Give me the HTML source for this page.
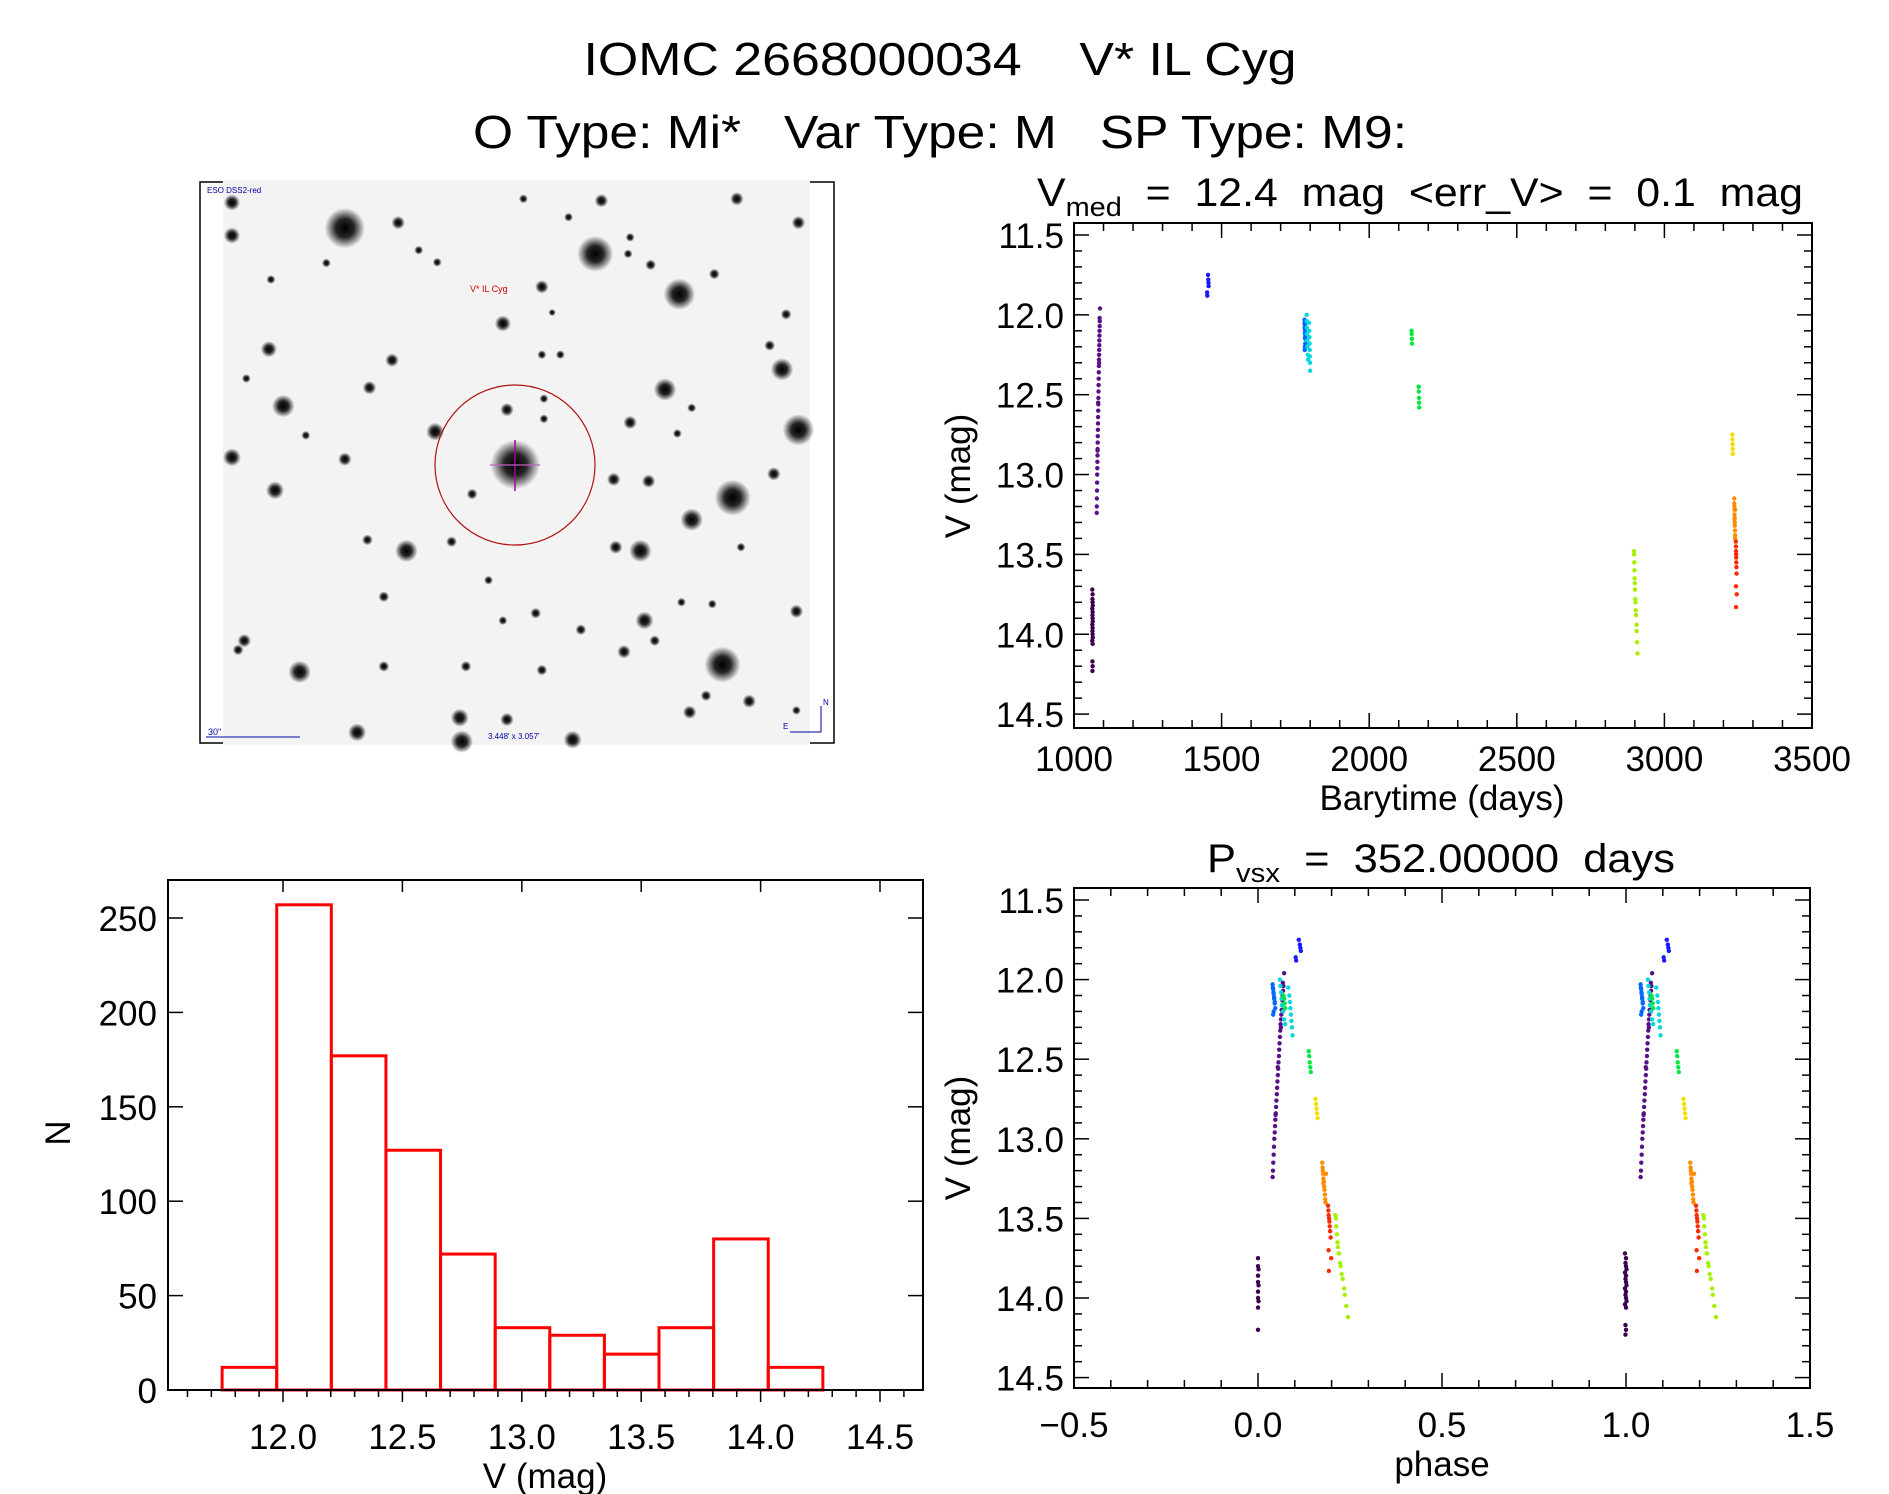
<!DOCTYPE html>
<html><head><meta charset="utf-8"><title>IOMC 2668000034 V* IL Cyg</title>
<style>
html,body{margin:0;padding:0;background:#fff;}
svg{display:block;font-family:"Liberation Sans",sans-serif;}
text{white-space:pre;}
</style></head>
<body>
<svg id="fig" width="1889" height="1494" viewBox="0 0 1889 1494" xmlns="http://www.w3.org/2000/svg" xml:space="preserve">
<defs>
<radialGradient id="starg"><stop offset="0" stop-color="#000" stop-opacity="1"/><stop offset="0.45" stop-color="#000" stop-opacity="0.85"/><stop offset="1" stop-color="#000" stop-opacity="0"/></radialGradient>
</defs>
<rect width="1889" height="1494" fill="#fff"/>
<text x="940" y="75" font-size="46" text-anchor="middle" textLength="713" lengthAdjust="spacingAndGlyphs">IOMC 2668000034    V* IL Cyg</text>
<text x="940" y="148" font-size="46" text-anchor="middle" textLength="934" lengthAdjust="spacingAndGlyphs">O Type: Mi*   Var Type: M   SP Type: M9:</text>
<g id="img"></g>
<g id="lc"></g>
<g id="ph"></g>
<g id="hist"></g>
</svg>
<script>
// ---- light curve data ----
const times = [
1062,1063,1062.5,1063,1063.5,1062,1063,1062.5,1063,1063.5,1062,1063,1062.5,1063,1063.5,1062,1063,1062.5,1063,1062.5,
1077,1077.3,1077.6,1078,1078.3,1078.6,1079,1079.3,1079.6,1080,1080.3,1080.6,1081,1081.3,1081.6,1082,1082.3,1082.6,1083,1083.3,1083.6,1084,1084.3,1084.6,1085,1085.3,1085.6,1086,1086.3,1086.6,1087,1087.3,1088,1079.8,1081.9,1084.9,1086.8,
1451,1451.5,1454,1455,1455.5,1456,
1781,1781.5,1782,1782.5,1783,1783.5,1781.2,1781.8,1782.4,1783,1782,1781.5,
1788,1788.5,1789,1789.5,1790,1791,1792,1793,1796,1797,1797.5,1798,1798.5,1799,1799.5,1800,
2143.5,2144,2144.5,2145,2167.5,2168,2168.5,2169,2169.5,
2897,2897.5,2898,2898.5,2899,2899.5,2900,2900.5,2901.5,2902,2903,2904,2905.5,2906,2907.5,2909,
3230,3230.5,3231,3231.5,3232,
3236.5,3236.8,3237,3237.3,3237.6,3238,3238.3,3238.6,3239,3239.3,3239.6,3240,3237.5,
3242,3242.3,3242.6,3243,3243.3,3243.6,3244,3244.5,3242.5,3245,3242.8
];
const mags = [
13.72,13.75,13.78,13.8,13.82,13.84,13.86,13.88,13.9,13.92,13.94,13.96,13.98,14.0,14.02,14.04,14.06,14.17,14.2,14.23,
13.24,13.2,13.15,13.1,13.05,13.0,12.96,12.92,12.88,12.84,12.8,12.76,12.72,12.68,12.64,12.6,12.56,12.52,12.48,12.44,12.4,12.36,12.32,12.28,12.25,12.22,12.19,12.16,12.13,12.1,12.07,12.04,11.96,12.85,12.55,12.3,12.02,
11.86,11.88,11.75,11.78,11.8,11.82,
12.03,12.06,12.09,12.12,12.15,12.18,12.05,12.08,12.11,12.14,12.2,12.22,
12.0,12.04,12.08,12.12,12.16,12.2,12.25,12.28,12.05,12.1,12.14,12.18,12.22,12.26,12.3,12.35,
12.1,12.12,12.15,12.18,12.45,12.48,12.52,12.55,12.58,
13.48,13.5,13.55,13.6,13.65,13.68,13.72,13.72,13.78,13.8,13.85,13.88,13.94,13.98,14.05,14.12,
12.75,12.78,12.81,12.84,12.87,
13.15,13.18,13.2,13.22,13.25,13.27,13.3,13.32,13.35,13.38,13.4,13.22,13.28,
13.42,13.45,13.48,13.5,13.52,13.55,13.58,13.62,13.7,13.75,13.83
];
const seasons = [
0,0,0,0,0,0,0,0,0,0,0,0,0,0,0,0,0,0,0,0,
1,1,1,1,1,1,1,1,1,1,1,1,1,1,1,1,1,1,1,1,1,1,1,1,1,1,1,1,1,1,1,1,1,1,1,1,1,
2,2,2,2,2,2,
3,3,3,3,3,3,3,3,3,3,3,3,
4,4,4,4,4,4,4,4,4,4,4,4,4,4,4,4,
5,5,5,5,5,5,5,5,5,
6,6,6,6,6,6,6,6,6,6,6,6,6,6,6,6,
7,7,7,7,7,
8,8,8,8,8,8,8,8,8,8,8,8,8,
9,9,9,9,9,9,9,9,9,9,9
];
const period = 352.0;
const epoch = 1063;
const palette = ['#3c0050','#58108a','#1818ff','#0068ff','#00d8e0','#00e840','#a8f000','#f4e000','#ff8c00','#ff2a00'];
const lcXTicks = [1000,1500,2000,2500,3000,3500];
const magTicks = [11.5,12.0,12.5,13.0,13.5,14.0,14.5];
const phXTicks = [-0.5,0.0,0.5,1.0,1.5];
const phXLabels = ['\u22120.5','0.0','0.5','1.0','1.5'];
// ---- histogram data ----
const binStart = 11.745;
const binWidth = 0.2287;
const binCounts = [12,257,177,127,72,33,29,19,33,80,12];
const histXTicks = [12.0,12.5,13.0,13.5,14.0,14.5];
const histYTicks = [0,50,100,150,200,250];

const NS='http://www.w3.org/2000/svg';
function mk(tag,attrs,parent,txt){const e=document.createElementNS(NS,tag);for(const k in attrs)e.setAttribute(k,attrs[k]);if(txt!==undefined)e.textContent=txt;parent.appendChild(e);return e;}

function frame(g,L,T,R,B){
  const r=mk('rect',{x:L,y:T,width:R-L,height:B-T,fill:'none',stroke:'#000','stroke-width':2},g);
  
  
}

// ---------- Light curve ----------
(function(){
  const g=document.getElementById('lc');
  const L=1074,R=1812,T=223,B=728;
  const xs=v=>L+(v-1000)/2500*(R-L);
  const y0=235,ppm=159.7;
  const ys=m=>y0+(m-11.5)*ppm;
  frame(g,L,T,R,B);
  const t=mk('text',{x:1420,y:206,'font-size':40,'text-anchor':'middle',textLength:766,lengthAdjust:'spacingAndGlyphs'},g);
  
  
  t.innerHTML='V<tspan font-size="27" dy="10">med</tspan><tspan dy="-10">  =  12.4  mag  &lt;err_V&gt;  =  0.1  mag</tspan>';
  for(let v=1000;v<=3500;v+=100){
    const x=xs(v);const maj=(v%500===0);const len=maj?15:8;
    mk('line',{x1:x,y1:B,x2:x,y2:B-len,stroke:'#000','stroke-width':1.5},g);
    mk('line',{x1:x,y1:T,x2:x,y2:T+len,stroke:'#000','stroke-width':1.5},g);
  }
  lcXTicks.forEach(v=>{
    const e=mk('text',{x:xs(v),y:771,'font-size':35,'text-anchor':'middle'},g,String(v));
    
    
  });
  for(let i=0;i<=31;i++){
    const y=ys(11.5+i*0.1);
    if(y<T||y>B)continue;
    const maj=(i%5===0);const len=maj?15:8;
    mk('line',{x1:L,y1:y,x2:L+len,y2:y,stroke:'#000','stroke-width':1.5},g);
    mk('line',{x1:R,y1:y,x2:R-len,y2:y,stroke:'#000','stroke-width':1.5},g);
  }
  magTicks.forEach(m=>{
    const e=mk('text',{x:1064,y:ys(m)+13,'font-size':35,'text-anchor':'end'},g,m.toFixed(1));
    
    
  });
  const xl=mk('text',{x:1442,y:810,'font-size':35,'text-anchor':'middle'},g,'Barytime (days)');
  
  
  const yl=mk('text',{x:0,y:0,'font-size':35,'text-anchor':'middle',transform:'translate(970,476) rotate(-90)'},g,'V (mag)');
  
  
  times.forEach((tt,i)=>{
    const c=mk('circle',{cx:xs(tt),cy:ys(mags[i]),r:2.2,fill:palette[seasons[i]]},g);
    
    
  });
})();

// ---------- Phase plot ----------
(function(){
  const g=document.getElementById('ph');
  const L=1074,R=1810,T=888,B=1388;
  const xs=p=>L+(p+0.5)/2*(R-L);
  const y0=900,ppm=159.2;
  const ys=m=>y0+(m-11.5)*ppm;
  frame(g,L,T,R,B);
  const t=mk('text',{x:1441,y:872,'font-size':40,'text-anchor':'middle',textLength:468,lengthAdjust:'spacingAndGlyphs'},g);
  
  
  t.innerHTML='P<tspan font-size="27" dy="10">vsx</tspan><tspan dy="-10">  =  352.00000  days</tspan>';
  for(let i=0;i<=20;i++){
    const p=-0.5+i*0.1;const x=xs(p);const maj=(i%5===0);const len=maj?15:8;
    mk('line',{x1:x,y1:B,x2:x,y2:B-len,stroke:'#000','stroke-width':1.5},g);
    mk('line',{x1:x,y1:T,x2:x,y2:T+len,stroke:'#000','stroke-width':1.5},g);
  }
  phXTicks.forEach((p,i)=>{
    const e=mk('text',{x:xs(p),y:1437,'font-size':35,'text-anchor':'middle'},g,phXLabels[i]);
    
    
  });
  for(let i=0;i<=31;i++){
    const y=ys(11.5+i*0.1);
    if(y<T||y>B)continue;
    const maj=(i%5===0);const len=maj?15:8;
    mk('line',{x1:L,y1:y,x2:L+len,y2:y,stroke:'#000','stroke-width':1.5},g);
    mk('line',{x1:R,y1:y,x2:R-len,y2:y,stroke:'#000','stroke-width':1.5},g);
  }
  magTicks.forEach(m=>{
    const e=mk('text',{x:1064,y:ys(m)+13,'font-size':35,'text-anchor':'end'},g,m.toFixed(1));
    
    
  });
  const xl=mk('text',{x:1442,y:1476,'font-size':35,'text-anchor':'middle'},g,'phase');
  
  
  const yl=mk('text',{x:0,y:0,'font-size':35,'text-anchor':'middle',transform:'translate(970,1138) rotate(-90)'},g,'V (mag)');
  
  
  times.forEach((tt,i)=>{
    let ph=((tt-epoch)/period)%1; if(ph<0)ph+=1;
    [ph,ph+1].forEach(p=>{
      const c=mk('circle',{cx:xs(p),cy:ys(mags[i]),r:2.2,fill:palette[seasons[i]]},g);
      
      
    });
  });
})();

// ---------- Histogram ----------
(function(){
  const g=document.getElementById('hist');
  const L=168,R=923,T=880,B=1390;
  const xs=v=>283+(v-12.0)*238.8;
  const ys=n=>B-n*1.888;
  binCounts.forEach((n,i)=>{
    const x0=xs(binStart+i*binWidth),x1=xs(binStart+(i+1)*binWidth);
    const r=mk('rect',{x:x0,y:ys(n),width:x1-x0,height:B-ys(n),fill:'none',stroke:'#ff0000','stroke-width':3},g);
    
    
  });
  frame(g,L,T,R,B);
  for(let i=0;;i++){
    const v=11.6+i*0.1;const x=xs(v);if(x>R)break;if(x<L)continue;
    const k=Math.round(v*10);const maj=(k%5===0);
    const len=maj?12:7;
    mk('line',{x1:x,y1:B,x2:x,y2:B+len,stroke:'#000','stroke-width':1.5},g);
    if(maj)mk('line',{x1:x,y1:T,x2:x,y2:T+12,stroke:'#000','stroke-width':1.5},g);
  }
  histXTicks.forEach(v=>{
    const e=mk('text',{x:xs(v),y:1449,'font-size':35,'text-anchor':'middle'},g,v.toFixed(1));
    
    
  });
  histYTicks.forEach(n=>{
    const y=ys(n);
    mk('line',{x1:L,y1:y,x2:L+15,y2:y,stroke:'#000','stroke-width':1.5},g);
    mk('line',{x1:R,y1:y,x2:R-15,y2:y,stroke:'#000','stroke-width':1.5},g);
    const e=mk('text',{x:157,y:y+13,'font-size':35,'text-anchor':'end'},g,String(n));
    
    
  });
  const xl=mk('text',{x:545,y:1488,'font-size':35,'text-anchor':'middle'},g,'V (mag)');
  
  
  const yl=mk('text',{x:0,y:0,'font-size':35,'text-anchor':'middle',transform:'translate(70,1133) rotate(-90)'},g,'N');
  
  
})();

// ---------- Sky image ----------
(function(){
  const g=document.getElementById('img');
  const fr=mk('rect',{x:200,y:182,width:634,height:561,fill:'none',stroke:'#000','stroke-width':1.5},g);
  
  
  const bg=mk('rect',{x:223,y:180,width:587,height:565,fill:'#f3f3f3'},g);
  
  
  const stars=[[365,145,45],[975,215,40],[1180,325,35],[780,790,55],[1310,880,40],[1285,1335,40],[1470,695,35],[1430,530,25],[1145,585,25],[1210,940,25],[1085,1025,25],[515,1025,25],[255,1355,25],[215,630,25],[195,860,20],[180,475,18],[90,770,20],[90,75,18],[90,165,18],[495,130,15],[990,70,15],[1320,65,15],[1470,130,15],[845,305,15],[750,405,18],[585,700,20],[760,640,15],[425,580,15],[480,505,15],[365,775,15],[1060,675,15],[1020,830,15],[1105,835,15],[675,870,12],[1025,1015,15],[1095,1215,20],[1045,1300,15],[1205,1465,15],[1350,1435,15],[1245,1420,12],[645,1480,20],[650,1545,25],[395,1520,20],[760,1485,15],[920,1540,20],[1410,815,15],[1440,380,12],[1400,465,12],[1265,270,12],[1110,245,12],[545,205,10],[590,238,10],[320,240,10],[185,285,10],[125,555,10],[270,710,10],[460,1150,12],[420,995,12],[625,1000,12],[660,1340,12],[830,1195,12],[845,1350,12],[940,1240,12],[460,1340,12],[120,1270,15],[105,1295,12],[1465,1190,15],[1260,1170,10],[1185,1165,10],[1120,1270,12],[870,375,8],[845,490,10],[890,490,10],[850,610,10],[850,665,10],[1175,705,10],[1210,635,10],[1060,170,10],[1055,215,10],[910,115,10],[800,65,10],[715,1105,10],[750,1215,10],[1330,1015,10],[1465,1460,10]];
  stars.forEach(s=>{
    const cx=195+s[0]*0.4105, cy=175+s[1]*0.3667, r=s[2]*0.45;
    const c=mk('circle',{cx:cx,cy:cy,r:r,fill:'url(#starg)'},g);
    
    
  });
  const ring=mk('circle',{cx:515,cy:465,r:80,fill:'none',stroke:'#b01010','stroke-width':1.2},g);
  
  
  mk('line',{x1:515,y1:440,x2:515,y2:491,stroke:'#a000a0','stroke-width':1.5},g);
  mk('line',{x1:490,y1:465,x2:540,y2:465,stroke:'#c060c0','stroke-width':1.2},g);
  const lbl=mk('text',{x:470,y:292,'font-size':9,fill:'#d00000'},g,'V* IL Cyg');
  
  
  const eso=mk('text',{x:207,y:193,'font-size':8,fill:'#0000a0'},g,'ESO DSS2-red');
  
  
  const sc=mk('text',{x:208,y:735,'font-size':9,fill:'#0000a0'},g,'30"');
  
  
  mk('line',{x1:206,y1:737,x2:300,y2:737,stroke:'#0000a0','stroke-width':1},g);
  const fov=mk('text',{x:488,y:739,'font-size':8,fill:'#0000a0'},g,"3.448' x 3.057'");
  
  
  mk('polyline',{points:'790,732 821,732 821,706',fill:'none',stroke:'#0000a0','stroke-width':1},g);
  const n=mk('text',{x:823,y:705,'font-size':8,fill:'#0000a0'},g,'N');
  
  
  const e=mk('text',{x:783,y:729,'font-size':8,fill:'#0000a0'},g,'E');
  
  
})();
</script>
</body></html>
